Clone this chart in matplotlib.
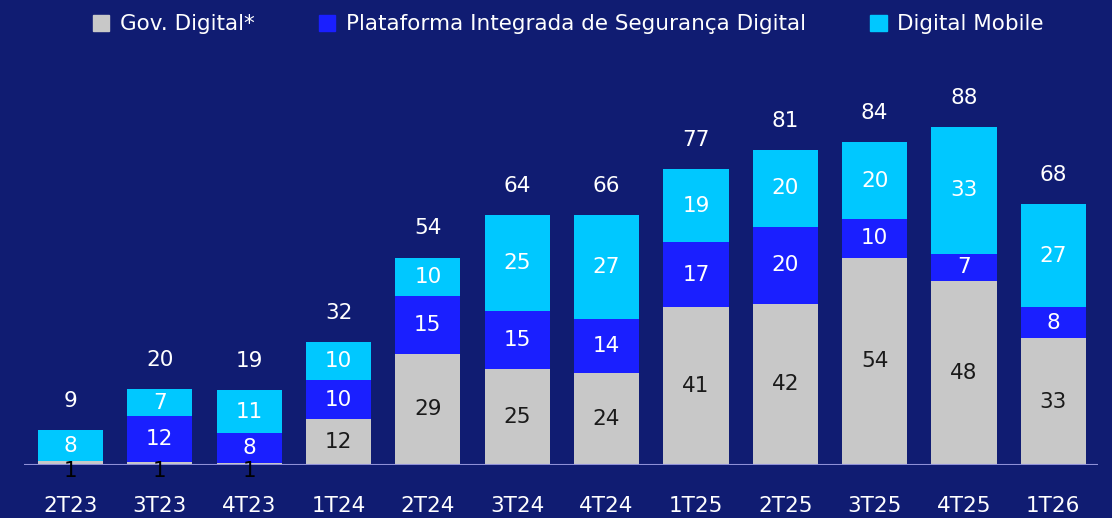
import matplotlib.pyplot as plt
from matplotlib.patches import Patch

# Data
quarters = ["2T23", "3T23", "4T23", "1T24", "2T24", "3T24", "4T24",
            "1T25", "2T25", "3T25", "4T25", "1T26"]
gov = [1, 0.7, 0.4, 12, 29, 25, 24, 41, 42, 54, 48, 33]
gov_labels = ["1", "1", "1", "12", "29", "25", "24", "41", "42", "54", "48", "33"]
plataforma = [0, 12, 8, 10, 15, 15, 14, 17, 20, 10, 7, 8]
mobile = [8, 7, 11, 10, 10, 25, 27, 19, 20, 20, 33, 27]
totals = [9, 20, 19, 32, 54, 64, 66, 77, 81, 84, 88, 68]

BG = "#101C72"
C_GOV = "#C8C8C8"
C_PLAT = "#1A1FFF"
C_MOB = "#00C8FF"

plt.rcParams['font.family'] = ['DejaVu Sans']

fig = plt.figure(figsize=(11.12, 5.18), dpi=100, facecolor=BG)
ax = fig.add_axes([24 / 1112, 53 / 518, 1074 / 1112, 415 / 518])
ax.set_facecolor(BG)

x = list(range(len(quarters)))
w = 0.73
bottom2 = [g + p for g, p in zip(gov, plataforma)]
ax.bar(x, gov, w, color=C_GOV, zorder=2)
ax.bar(x, plataforma, w, bottom=gov, color=C_PLAT, zorder=2)
ax.bar(x, mobile, w, bottom=bottom2, color=C_MOB, zorder=2)

fs = 15.5
for i in x:
    if gov[i] < 2:
        # tiny bars: black label hanging just below the baseline
        ax.annotate(gov_labels[i], (i, 0), xytext=(0, -4), textcoords='offset points',
                    ha='center', va='center', color='black', fontsize=fs, zorder=4)
    else:
        ax.text(i, gov[i] / 2, gov_labels[i], ha='center', va='center',
                color='#1A1A1A', fontsize=fs, zorder=4)
    if plataforma[i] > 0:
        ax.text(i, gov[i] + plataforma[i] / 2, str(plataforma[i]), ha='center',
                va='center', color='white', fontsize=fs, zorder=4)
    ax.text(i, bottom2[i] + mobile[i] / 2, str(mobile[i]), ha='center',
            va='center', color='white', fontsize=fs, zorder=4)
    top = bottom2[i] + mobile[i]
    ax.annotate(str(totals[i]), (i, top), xytext=(0, 21), textcoords='offset points',
                ha='center', va='center', color='white', fontsize=fs)

ax.axhline(0, color='#8F90D8', linewidth=1.5, zorder=3)
ax.set_xlim(-0.52, 11.5)
ax.set_ylim(0, 108)
ax.set_xticks(x)
ax.set_xticklabels(quarters, color='white', fontsize=fs)
ax.tick_params(axis='x', length=0, pad=22)
ax.set_yticks([])
for s in ax.spines.values():
    s.set_visible(False)

handles = [Patch(color=C_GOV, label="Gov. Digital*"),
           Patch(color=C_PLAT, label="Plataforma Integrada de Segurança Digital"),
           Patch(color=C_MOB, label="Digital Mobile")]
fig.legend(handles=handles, loc='upper center', bbox_to_anchor=(0.511, 1.01), ncol=3,
           frameon=False, fontsize=fs, labelcolor='white', handlelength=0.75,
           handleheight=0.75, handletextpad=0.5, columnspacing=3.0)

fig.savefig("out.png", dpi=100, facecolor=BG)
